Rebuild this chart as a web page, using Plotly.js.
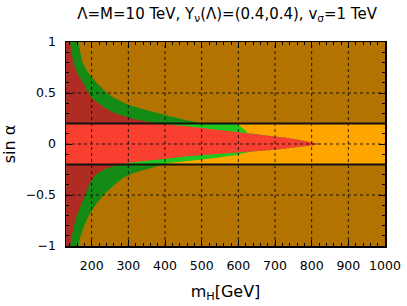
<!DOCTYPE html>
<html>
<head>
<meta charset="utf-8">
<script src="https://cdn.plot.ly/plotly-3.0.1.min.js"></script>
<style>html,body{margin:0;padding:0;background:#fff;}#plot{width:407px;height:306px;}</style>
</head>
<body>
<div id="plot"></div>
<script>
// sin(alpha) sample points (top to bottom) and boundary masses m_H [GeV]
const sinAlpha = [1, 0.9, 0.8, 0.7, 0.6, 0.5, 0.45, 0.4, 0.35, 0.3, 0.27, 0.24, 0.22, 0.2,
  0.2, 0.19, 0.174, 0.157, 0.141, 0.125, 0.108, 0.092, 0.075, 0.059, 0.043, 0.026, 0.01, 0,
  -0.007, -0.023, -0.039, -0.056, -0.072, -0.089, -0.105, -0.121, -0.138, -0.154, -0.17, -0.187, -0.2,
  -0.22, -0.25, -0.27, -0.3, -0.33, -0.4, -0.5, -0.6, -0.7, -0.8, -0.9, -1];
const redBoundary = [141, 145, 150, 160, 175, 192, 200, 218, 237, 265, 290, 320, 350, 390,
  390, 405, 460, 500, 545, 590, 623, 665, 703, 735, 760, 787, 814, 823,
  814, 777, 741, 700, 645, 575, 510, 460, 420, 375, 330, 295, 280,
  255, 235, 225, 212, 205, 193, 182, 171, 160, 152, 146, 141];
const greenBoundary = [163, 168, 175, 190, 213, 242, 262, 290, 330, 385, 415, 450, 478, 505,
  595, 597, 605, 612, 618, 622, 623, 665, 703, 735, 760, 787, 814, 823,
  814, 777, 741, 700, 645, 614, 600, 572, 535, 495, 452, 410, 395,
  375, 345, 328, 305, 286, 262, 232, 210, 192, 180, 170, 163];
const sinLimits = [0.2, -0.2];
const gridX = [200, 300, 400, 500, 600, 700, 800, 900];
const gridY = [-0.5, 0, 0.5];
const xRange = [130, 1000];
const yRange = [-1, 1];

const traces = [
  {x: greenBoundary, y: sinAlpha, type: 'scatter', mode: 'lines', fill: 'tozerox',
   fillcolor: '#1ec81e', line: {width: 0, color: '#1ec81e'}, hoverinfo: 'skip'},
  {x: redBoundary, y: sinAlpha, type: 'scatter', mode: 'lines', fill: 'tozerox',
   fillcolor: '#f94030', line: {width: 0, color: '#f94030'}, hoverinfo: 'skip'}
];

const shapes = [];
// darkened regions outside |sin a| < 0.2
shapes.push({type: 'rect', xref: 'paper', yref: 'y', x0: 0, x1: 1, y0: sinLimits[0], y1: yRange[1],
  fillcolor: 'rgba(0,0,0,0.3)', line: {width: 0}, layer: 'above'});
shapes.push({type: 'rect', xref: 'paper', yref: 'y', x0: 0, x1: 1, y0: yRange[0], y1: sinLimits[1],
  fillcolor: 'rgba(0,0,0,0.3)', line: {width: 0}, layer: 'above'});
gridX.forEach(v => shapes.push({type: 'line', xref: 'x', yref: 'paper', x0: v, x1: v, y0: 0, y1: 1,
  line: {color: 'rgba(0,0,0,0.8)', width: 1, dash: 'dot'}, layer: 'above'}));
gridY.forEach(v => shapes.push({type: 'line', xref: 'paper', yref: 'y', x0: 0, x1: 1, y0: v, y1: v,
  line: {color: 'rgba(0,0,0,0.8)', width: 1, dash: 'dot'}, layer: 'above'}));
sinLimits.forEach(v => shapes.push({type: 'line', xref: 'paper', yref: 'y', x0: 0, x1: 1, y0: v, y1: v,
  line: {color: '#111', width: 2}, layer: 'above'}));

const font = {family: 'DejaVu Sans', color: '#000'};
const axisCommon = {
  ticks: 'inside', ticklen: 6, tickwidth: 1, tickcolor: '#000',
  showline: true, linecolor: '#000', linewidth: 1.5, mirror: 'ticks',
  showgrid: false, zeroline: false, layer: 'above traces',
  tickfont: Object.assign({size: 12.5}, font)
};
const layout = {
  width: 407, height: 306,
  margin: {l: 66, r: 22, t: 42, b: 60},
  paper_bgcolor: '#fff', plot_bgcolor: '#ffa500',
  showlegend: false,
  title: {text: 'Λ=M=10 TeV, Y<sub>ν</sub>(Λ)=(0.4,0.4), v<sub>σ</sub>=1 TeV',
    font: Object.assign({size: 15}, font), x: 0.558, xanchor: 'center', y: 0.955, yanchor: 'middle'},
  xaxis: Object.assign({}, axisCommon, {range: xRange, dtick: 100, tick0: 0, ticklabelstandoff: 7,
    minor: {ticks: 'inside', ticklen: 3, dtick: 20, tick0: 0, tickcolor: '#000'},
    title: {text: 'm<sub>H</sub>[GeV]', font: Object.assign({size: 16}, font), standoff: 14}}),
  yaxis: Object.assign({}, axisCommon, {range: yRange, dtick: 0.5, tick0: 0, ticklabelstandoff: 6,
    minor: {ticks: 'inside', ticklen: 3, dtick: 0.1, tick0: 0, tickcolor: '#000'},
    title: {text: 'sin α', font: Object.assign({size: 16}, font), standoff: 10}}),
  shapes: shapes
};
Plotly.newPlot('plot', traces, layout, {staticPlot: true, displayModeBar: false});
</script>
</body>
</html>
